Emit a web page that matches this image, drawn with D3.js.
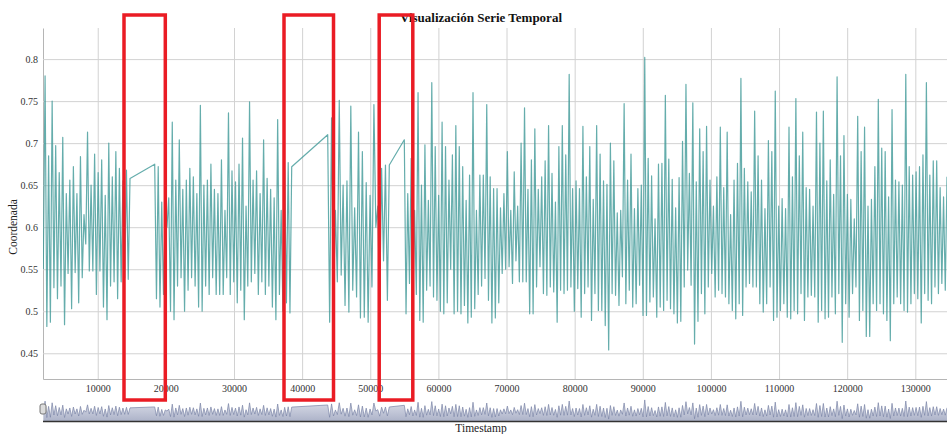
<!DOCTYPE html>
<html><head><meta charset="utf-8">
<script src="https://cdn.jsdelivr.net/npm/d3@7"></script>
<style>
body{margin:0;background:#fff;overflow:hidden}
svg{display:block}
text{font-family:"Liberation Serif","Times New Roman",serif}
</style>
</head><body>
<svg id="chart" width="947" height="434"></svg>
<script>
const chartTitle = "Visualización Serie Temporal";
const xLabel = "Timestamp";
const yLabel = "Coordenada";
const xTicks = [10000,20000,30000,40000,50000,60000,70000,80000,90000,100000,110000,120000,130000];
const yTicks = [0.45,0.5,0.55,0.6,0.65,0.7,0.75,0.8];
const xDomain = [1967, 134650];
const yDomain = [0.4194, 0.837];

// time span [first, last] of each continuous run of samples
const segmentTimes = [[2011,14737],[18362,38471],[43755,52796],[54998,134650]];

const segA = [0.55,0.78,0.482,0.685,0.487,0.75,0.528,0.697,0.515,0.665,0.53,0.707,0.484,0.64,0.545,0.656,0.503,0.672,0.546,0.64,0.51,0.684,0.54,0.615,0.58,0.713,0.548,0.65,0.548,0.687,0.52,0.665,0.548,0.68,0.505,0.638,0.49,0.70,0.53,0.66,0.535,0.69,0.515,0.67,0.535,0.655,0.54,0.668,0.538,0.658];
const segB = [0.675,0.515,0.672,0.505,0.63,0.52,0.62,0.60,0.635,0.50,0.725,0.49,0.656,0.53,0.704,0.54,0.645,0.50,0.656,0.525,0.67,0.54,0.66,0.53,0.64,0.505,0.745,0.50,0.65,0.53,0.656,0.52,0.675,0.54,0.645,0.52,0.64,0.52,0.68,0.52,0.62,0.54,0.736,0.52,0.667,0.535,0.654,0.51,0.675,0.525,0.706,0.49,0.625,0.53,0.749,0.535,0.656,0.545,0.667,0.52,0.64,0.535,0.704,0.52,0.658,0.53,0.645,0.505,0.635,0.49,0.728,0.52,0.62,0.50,0.668,0.51,0.677,0.498,0.672];
const segC = [0.710,0.487,0.730,0.510,0.620,0.535,0.751,0.543,0.650,0.507,0.655,0.499,0.744,0.525,0.623,0.517,0.713,0.492,0.690,0.493,0.653,0.487,0.638,0.529,0.746,0.600,0.625,0.507,0.670,0.560,0.674,0.513,0.674];
const segD = [0.704,0.497,0.640,0.533,0.682,0.510,0.620,0.520,0.760,0.489,0.650,0.487,0.698,0.525,0.632,0.530,0.772,0.517,0.696,0.513,0.638,0.500,0.725,0.497,0.696,0.510,0.656,0.550,0.686,0.497,0.721,0.500,0.696,0.497,0.672,0.507,0.632,0.486,0.662,0.493,0.760,0.503,0.620,0.520,0.662,0.530,0.662,
0.539,0.746,0.513,0.660,0.486,0.646,0.492,0.646,0.510,0.623,0.545,0.640,0.550,0.690,0.553,0.620,0.533,0.666,0.560,0.625,0.535,0.700,0.535,0.742,0.535,0.645,0.497,0.680,0.497,0.717,0.529,0.645,0.553,0.660,0.521,0.679,0.519,0.721,0.529,0.664,0.523,0.630,0.487,0.696,0.525,0.721,0.521,0.686,0.525,0.782,0.529,0.646,0.500,0.655,0.527,0.646,0.493,0.720,0.521,0.660,0.529,0.696,0.489,0.633,0.521,0.721,0.501,0.687,0.501,0.655,0.483,0.651,0.454,0.700,0.521,0.679,0.519,0.617,0.507,0.620,0.541,0.747,0.509,0.656,0.525,0.687,0.505,0.622,0.509,0.646,
0.531,0.650,0.495,0.802,0.495,0.682,0.511,0.661,0.517,0.610,0.493,0.675,0.505,0.676,0.501,0.757,0.513,0.681,0.503,0.657,0.497,0.623,0.486,0.659,0.488,0.702,0.529,0.770,0.549,0.664,0.531,0.748,0.461,0.654,0.488,0.717,0.521,0.690,0.497,0.720,0.529,0.656,0.545,0.625,0.517,0.660,0.525,0.719,0.521,0.647,0.517,0.713,0.509,0.615,0.501,0.656,0.491,0.676,0.509,0.777,0.495,0.670,0.529,0.654,0.533,0.642,0.529,0.738,0.529,0.685,0.509,0.656,0.499,0.622,0.509,0.703,0.529,0.690,0.489,0.762,0.493,0.625,0.501,0.634,0.509,0.622,0.493,0.719,
0.491,0.660,0.501,0.753,0.497,0.685,0.521,0.713,0.489,0.647,0.517,0.645,0.519,0.625,0.517,0.737,0.487,0.700,0.501,0.738,0.491,0.655,0.493,0.680,0.517,0.639,0.497,0.779,0.521,0.685,0.463,0.709,0.509,0.639,0.493,0.633,0.521,0.610,0.529,0.732,0.489,0.690,0.501,0.719,0.470,0.625,0.470,0.633,0.509,0.672,0.501,0.752,0.509,0.694,0.497,0.690,0.489,0.636,0.465,0.740,0.509,0.656,0.517,0.654,0.509,0.650,0.501,0.782,0.499,0.672,0.509,0.662,0.521,0.666,0.515,0.672,0.486,0.686,0.521,0.772,0.513,0.662,0.509,0.679,0.529,0.679,0.521,0.647,0.533,0.636,0.525,0.660];

// highlighted (annotated) gap ranges, in timestamp units
const highlightRanges = [[13856,19918],[37340,44606],[51313,56244]];

const segments = [segA, segB, segC, segD];
const data = [];
segments.forEach((vals, s) => {
  const [t0, t1] = segmentTimes[s];
  vals.forEach((v, i) => data.push({t: t0 + i * (t1 - t0) / (vals.length - 1), v}));
});

const svg = d3.select("#chart");
const m = {left: 43, right: 947, top: 28, bottom: 379};
const ctx = {top: 398, bottom: 421};

const x = d3.scaleLinear().domain(xDomain).range([m.left, m.right]);
const y = d3.scaleLinear().domain(yDomain).range([m.bottom, m.top]);
const y2 = d3.scaleLinear().domain(yDomain).range([ctx.bottom, ctx.top]);

const defs = svg.append("defs");
defs.append("clipPath").attr("id","clip").append("rect")
  .attr("x", m.left).attr("y", m.top).attr("width", m.right - m.left).attr("height", m.bottom - m.top);
const grad = defs.append("linearGradient").attr("id","ctxGrad").attr("x1",0).attr("y1",0).attr("x2",0).attr("y2",1);
grad.append("stop").attr("offset","0%").attr("stop-color","#dde0ea");
grad.append("stop").attr("offset","100%").attr("stop-color","#adb3c9");

// grid + axes
const gx = svg.append("g").attr("transform", `translate(0,${m.bottom})`)
  .call(d3.axisBottom(x).tickValues(xTicks).tickSize(-(m.bottom - m.top)).tickSizeOuter(0).tickPadding(6).tickFormat(d => String(d)));
const gy = svg.append("g").attr("transform", `translate(${m.left},0)`)
  .call(d3.axisLeft(y).tickValues(yTicks).tickSize(-(m.right - m.left)).tickSizeOuter(0).tickPadding(5).tickFormat(d => String(d)));
[gx, gy].forEach(g => {
  g.selectAll(".tick line").attr("stroke", "#d2d2d2").attr("stroke-width", 1);
  g.select(".domain").attr("stroke", "#b5b5b5");
  g.selectAll("text").attr("font-family", "'Liberation Serif', serif").attr("font-size", 10).attr("fill", "#333");
});

// main line
const line = d3.line().x(d => x(d.t)).y(d => y(d.v));
svg.append("path").datum(data).attr("clip-path","url(#clip)")
  .attr("fill","none").attr("stroke","#3f9997").attr("stroke-opacity",0.8).attr("stroke-width",1.2)
  .attr("stroke-linejoin","round").attr("d", line);

// context
const area = d3.area().x(d => x(d.t)).y0(ctx.bottom).y1(d => y2(d.v));
svg.append("path").datum(data).attr("fill","url(#ctxGrad)").attr("d", area);
svg.append("path").datum(data).attr("fill","none").attr("stroke","#7a84a6").attr("stroke-width",0.7)
  .attr("d", d3.line().x(d => x(d.t)).y(d => y2(d.v)));
svg.append("line").attr("x1", m.left).attr("x2", m.right).attr("y1", ctx.bottom + 0.5).attr("y2", ctx.bottom + 0.5)
  .attr("stroke","#333").attr("stroke-width",1.5);
svg.append("rect").attr("x", m.left - 3).attr("y", ctx.top + 6).attr("width", 6).attr("height", 10).attr("rx", 2)
  .attr("fill","#dcdcdc").attr("stroke","#777").attr("stroke-width",1);

// labels
svg.append("text").attr("x", 481).attr("y", 22).attr("text-anchor","middle")
  .attr("font-size", 13).attr("font-weight","bold").attr("fill","#111").text(chartTitle);
svg.append("text").attr("transform", `translate(17,227) rotate(-90)`).attr("text-anchor","middle")
  .attr("font-size", 11.5).attr("fill","#222").text(yLabel);
svg.append("text").attr("x", 481).attr("y", 432).attr("text-anchor","middle")
  .attr("font-size", 11.5).attr("fill","#222").text(xLabel);

// red annotation boxes
const boxTop = m.top - 13, boxBottom = ctx.top + 2;
svg.selectAll(".hl").data(highlightRanges).join("rect").attr("class","hl")
  .attr("x", d => x(d[0])).attr("width", d => x(d[1]) - x(d[0]))
  .attr("y", boxTop).attr("height", boxBottom - boxTop)
  .attr("fill","none").attr("stroke","#ea1c24").attr("stroke-width",3.5);
</script>
</body></html>
